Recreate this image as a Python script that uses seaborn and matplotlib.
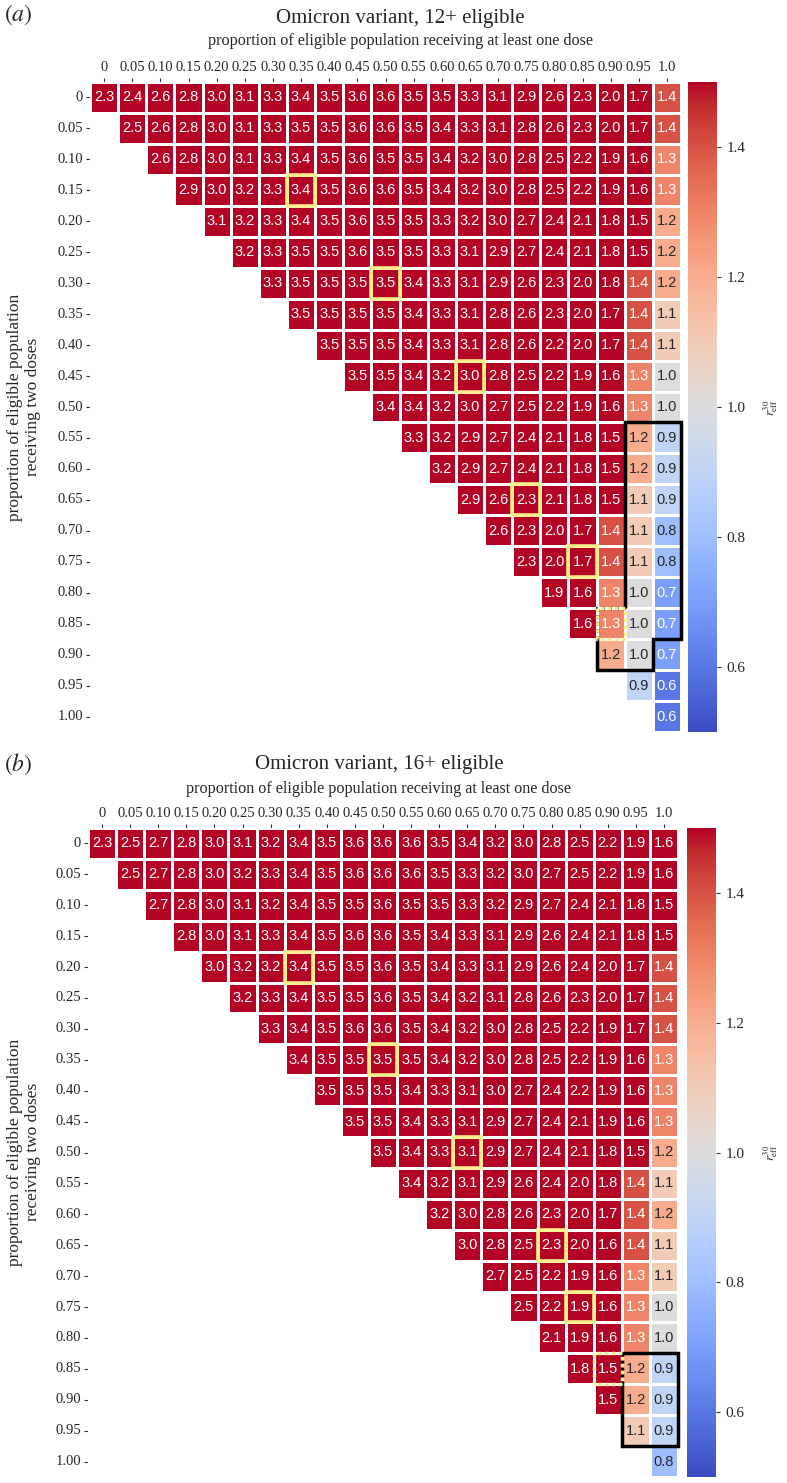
import numpy as np
import pandas as pd
import matplotlib
matplotlib.use("Agg")
import matplotlib.pyplot as plt
from matplotlib.patches import Rectangle
import seaborn as sns

# ---------------- data ----------------
col_labels = ["0", "0.05", "0.10", "0.15", "0.20", "0.25", "0.30", "0.35", "0.40", "0.45",
              "0.50", "0.55", "0.60", "0.65", "0.70", "0.75", "0.80", "0.85", "0.90", "0.95", "1.0"]
row_labels = ["0", "0.05", "0.10", "0.15", "0.20", "0.25", "0.30", "0.35", "0.40", "0.45",
              "0.50", "0.55", "0.60", "0.65", "0.70", "0.75", "0.80", "0.85", "0.90", "0.95", "1.00"]

# panel (a): Omicron variant, 12+ eligible (row i starts at column i)
omicron12_rows = [
    [2.3, 2.4, 2.6, 2.8, 3.0, 3.1, 3.3, 3.4, 3.5, 3.6, 3.6, 3.5, 3.5, 3.3, 3.1, 2.9, 2.6, 2.3, 2.0, 1.7, 1.4],
    [2.5, 2.6, 2.8, 3.0, 3.1, 3.3, 3.5, 3.5, 3.6, 3.6, 3.5, 3.4, 3.3, 3.1, 2.8, 2.6, 2.3, 2.0, 1.7, 1.4],
    [2.6, 2.8, 3.0, 3.1, 3.3, 3.4, 3.5, 3.6, 3.5, 3.5, 3.4, 3.2, 3.0, 2.8, 2.5, 2.2, 1.9, 1.6, 1.3],
    [2.9, 3.0, 3.2, 3.3, 3.4, 3.5, 3.6, 3.6, 3.5, 3.4, 3.2, 3.0, 2.8, 2.5, 2.2, 1.9, 1.6, 1.3],
    [3.1, 3.2, 3.3, 3.4, 3.5, 3.6, 3.5, 3.5, 3.3, 3.2, 3.0, 2.7, 2.4, 2.1, 1.8, 1.5, 1.2],
    [3.2, 3.3, 3.5, 3.5, 3.6, 3.5, 3.5, 3.3, 3.1, 2.9, 2.7, 2.4, 2.1, 1.8, 1.5, 1.2],
    [3.3, 3.5, 3.5, 3.5, 3.5, 3.4, 3.3, 3.1, 2.9, 2.6, 2.3, 2.0, 1.8, 1.4, 1.2],
    [3.5, 3.5, 3.5, 3.5, 3.4, 3.3, 3.1, 2.8, 2.6, 2.3, 2.0, 1.7, 1.4, 1.1],
    [3.5, 3.5, 3.5, 3.4, 3.3, 3.1, 2.8, 2.6, 2.2, 2.0, 1.7, 1.4, 1.1],
    [3.5, 3.5, 3.4, 3.2, 3.0, 2.8, 2.5, 2.2, 1.9, 1.6, 1.3, 1.0],
    [3.4, 3.4, 3.2, 3.0, 2.7, 2.5, 2.2, 1.9, 1.6, 1.3, 1.0],
    [3.3, 3.2, 2.9, 2.7, 2.4, 2.1, 1.8, 1.5, 1.2, 0.9],
    [3.2, 2.9, 2.7, 2.4, 2.1, 1.8, 1.5, 1.2, 0.9],
    [2.9, 2.6, 2.3, 2.1, 1.8, 1.5, 1.1, 0.9],
    [2.6, 2.3, 2.0, 1.7, 1.4, 1.1, 0.8],
    [2.3, 2.0, 1.7, 1.4, 1.1, 0.8],
    [1.9, 1.6, 1.3, 1.0, 0.7],
    [1.6, 1.3, 1.0, 0.7],
    [1.2, 1.0, 0.7],
    [0.9, 0.6],
    [0.6],
]

# panel (b): Omicron variant, 16+ eligible
omicron16_rows = [
    [2.3, 2.5, 2.7, 2.8, 3.0, 3.1, 3.2, 3.4, 3.5, 3.6, 3.6, 3.6, 3.5, 3.4, 3.2, 3.0, 2.8, 2.5, 2.2, 1.9, 1.6],
    [2.5, 2.7, 2.8, 3.0, 3.2, 3.3, 3.4, 3.5, 3.6, 3.6, 3.6, 3.5, 3.3, 3.2, 3.0, 2.7, 2.5, 2.2, 1.9, 1.6],
    [2.7, 2.8, 3.0, 3.1, 3.2, 3.4, 3.5, 3.5, 3.6, 3.5, 3.5, 3.3, 3.2, 2.9, 2.7, 2.4, 2.1, 1.8, 1.5],
    [2.8, 3.0, 3.1, 3.3, 3.4, 3.5, 3.6, 3.6, 3.5, 3.4, 3.3, 3.1, 2.9, 2.6, 2.4, 2.1, 1.8, 1.5],
    [3.0, 3.2, 3.2, 3.4, 3.5, 3.5, 3.6, 3.5, 3.4, 3.3, 3.1, 2.9, 2.6, 2.4, 2.0, 1.7, 1.4],
    [3.2, 3.3, 3.4, 3.5, 3.5, 3.6, 3.5, 3.4, 3.2, 3.1, 2.8, 2.6, 2.3, 2.0, 1.7, 1.4],
    [3.3, 3.4, 3.5, 3.6, 3.6, 3.5, 3.4, 3.2, 3.0, 2.8, 2.5, 2.2, 1.9, 1.7, 1.4],
    [3.4, 3.5, 3.5, 3.5, 3.5, 3.4, 3.2, 3.0, 2.8, 2.5, 2.2, 1.9, 1.6, 1.3],
    [3.5, 3.5, 3.5, 3.4, 3.3, 3.1, 3.0, 2.7, 2.4, 2.2, 1.9, 1.6, 1.3],
    [3.5, 3.5, 3.4, 3.3, 3.1, 2.9, 2.7, 2.4, 2.1, 1.9, 1.6, 1.3],
    [3.5, 3.4, 3.3, 3.1, 2.9, 2.7, 2.4, 2.1, 1.8, 1.5, 1.2],
    [3.4, 3.2, 3.1, 2.9, 2.6, 2.4, 2.0, 1.8, 1.4, 1.1],
    [3.2, 3.0, 2.8, 2.6, 2.3, 2.0, 1.7, 1.4, 1.2],
    [3.0, 2.8, 2.5, 2.3, 2.0, 1.6, 1.4, 1.1],
    [2.7, 2.5, 2.2, 1.9, 1.6, 1.3, 1.1],
    [2.5, 2.2, 1.9, 1.6, 1.3, 1.0],
    [2.1, 1.9, 1.6, 1.3, 1.0],
    [1.8, 1.5, 1.2, 0.9],
    [1.5, 1.2, 0.9],
    [1.1, 0.9],
    [0.8],
]

# highlighted cells (row index, column index)
highlight_a = [(3, 7), (6, 10), (9, 13), (13, 15), (15, 17)]
highlight_b = [(4, 7), (7, 10), (10, 13), (13, 16), (15, 17)]
dashed_a = (17, 18)
dashed_b = (17, 18)

titles = ["Omicron variant, 12+ eligible", "Omicron variant, 16+ eligible"]
panel_tags = [r"$(a)$", r"$(b)$"]
xlabel_text = "proportion of eligible population receiving at least one dose"
ylabel_text = "proportion of eligible population\nreceiving two doses"
cbar_label = r"$r^{30}_{\rm eff}$"
cbar_ticks = [0.6, 0.8, 1.0, 1.2, 1.4]


def to_frame(rows):
    n = len(col_labels)
    m = np.full((n, n), np.nan)
    for i, r in enumerate(rows):
        m[i, i:i + len(r)] = r
    return pd.DataFrame(m, index=row_labels, columns=col_labels)


# ---------------- figure ----------------
sns.set_theme(style="white")
plt.rcParams["font.family"] = ["Liberation Serif", "DejaVu Serif"]
plt.rcParams["mathtext.fontset"] = "stix"

W, H = 787, 1483
fig = plt.figure(figsize=(W / 100, H / 100), dpi=100)


def fx(px):
    return px / W


def fy(py):
    return 1 - py / H


YELLOW = "#f8ee8c"

panels = [
    dict(rows=omicron12_rows, hl=highlight_a, dash=dashed_a,
         box=(90, 82, 681, 732), cbx=(688, 717), title_y=18, sub_y=41, cx=400,
         tag_y=15, ylab_y=407),
    dict(rows=omicron16_rows, hl=highlight_b, dash=dashed_b,
         box=(88, 828, 678, 1477), cbx=(687, 716), title_y=764, sub_y=789, cx=379,
         tag_y=764, ylab_y=1152),
]

for k, p in enumerate(panels):
    x0, y0, x1, y1 = p["box"]
    ax = fig.add_axes([fx(x0), fy(y1), fx(x1 - x0), (y1 - y0) / H])
    cax = fig.add_axes([fx(p["cbx"][0]), fy(y1), fx(p["cbx"][1] - p["cbx"][0]), (y1 - y0) / H])
    df = to_frame(p["rows"])
    sns.heatmap(df, ax=ax, cbar_ax=cax, mask=df.isna(), cmap="coolwarm",
                vmin=0.5, vmax=1.5, annot=True, fmt=".1f",
                annot_kws=dict(size=10.5, family="Liberation Sans"),
                linewidths=0.8, linecolor="white", square=False)
    ax.set_xlabel("")
    ax.set_ylabel("")
    ax.xaxis.tick_top()
    ax.set_xticklabels(col_labels, rotation=0, fontsize=10.5)
    ax.set_yticklabels(row_labels, rotation=0, fontsize=10.5)
    ax.tick_params(axis="x", top=True, bottom=False, labeltop=True, labelbottom=False,
                   length=3, width=0.8, pad=3, color="#333333")
    ax.tick_params(axis="y", left=True, length=3, width=0.8, pad=2, color="#333333")

    cax.set_yticks(cbar_ticks)
    cax.set_yticklabels([f"{t:.1f}" for t in cbar_ticks], fontsize=11)
    cax.tick_params(axis="y", length=3, width=0.8, pad=4, color="#333333")

    # highlighted cells
    for (r, c) in p["hl"]:
        ax.add_patch(Rectangle((c, r), 1, 1, fill=False, edgecolor=YELLOW, lw=2.6,
                               zorder=5, clip_on=False))

    dr, dc = p["dash"]
    if k == 0:
        solid = [(18, 18), (18, 19), (20, 19), (20, 18), (21, 18), (21, 11), (19, 11), (19, 17)]
        dashed = [(19, 17), (18, 17), (18, 18)]
    else:
        solid = [(19, 18), (19, 20), (21, 20), (21, 17), (19, 17)]
        dashed = [(19, 17), (19, 18)]
    sx, sy = zip(*solid)
    ax.plot(sx, sy, color="black", lw=2.5, solid_joinstyle="miter",
            solid_capstyle="butt", zorder=6, clip_on=False)
    dx, dy = zip(*dashed)
    ax.plot(dx, dy, color="black", lw=2.5, linestyle=(0, (1, 1)), zorder=6, clip_on=False)
    ax.add_patch(Rectangle((dc, dr), 1, 1, fill=False, edgecolor=YELLOW, lw=2.5,
                           linestyle=(1, (1, 1)), zorder=7, clip_on=False))

    # texts
    fig.text(fx(p["cx"]), fy(p["title_y"]), titles[k], ha="center", va="center", fontsize=15)
    fig.text(fx(p["cx"]), fy(p["sub_y"]), xlabel_text, ha="center", va="center", fontsize=11.6)
    fig.text(fx(4), fy(p["tag_y"]), panel_tags[k], ha="left", va="center", fontsize=17)
    fig.text(fx(24), fy(p["ylab_y"]), ylabel_text, ha="center", va="center",
             rotation=90, multialignment="center", fontsize=12.5, linespacing=1.1)
    fig.text(fx(771), fy((y0 + y1) / 2), cbar_label, ha="center", va="center",
             rotation=90, fontsize=9)

fig.savefig("out.png", dpi=100)
